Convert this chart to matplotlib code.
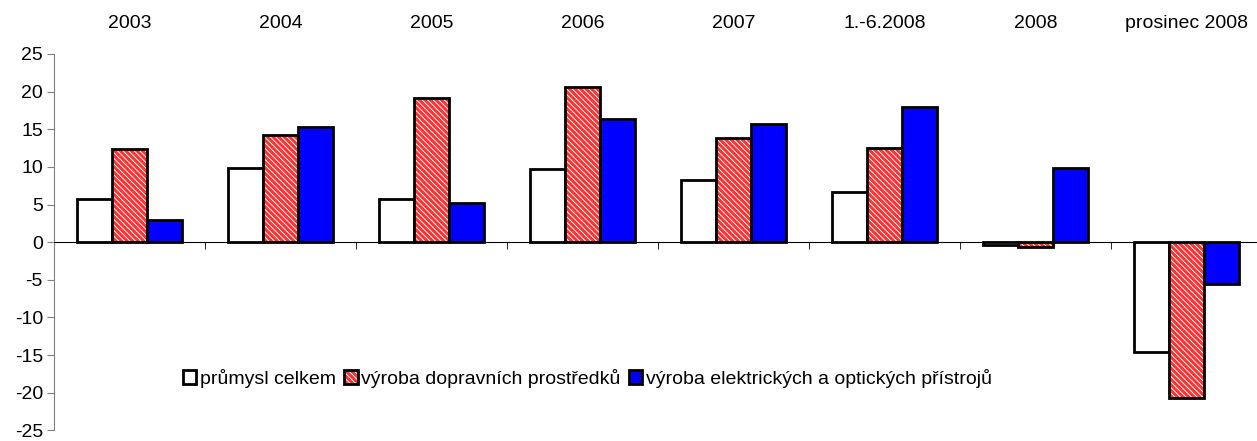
import matplotlib.pyplot as plt
import numpy as np
from matplotlib.patches import Patch

plt.rcParams['font.family'] = ['Liberation Sans', 'DejaVu Sans']
plt.rcParams['font.size'] = 14
plt.rcParams['hatch.linewidth'] = 0.7
plt.rcParams['axes.unicode_minus'] = False

# data
periods = ["2003", "2004", "2005", "2006", "2007", "1.-6.2008", "2008", "prosinec 2008"]
prumysl = [5.8, 9.9, 5.7, 9.7, 8.2, 6.7, -0.4, -14.6]
doprava = [12.4, 14.3, 19.2, 20.6, 13.9, 12.5, -0.6, -20.7]
elektro = [2.9, 15.3, 5.2, 16.3, 15.7, 18.0, 9.8, -5.5]
labels = ["průmysl celkem", "výroba dopravních prostředků",
          "výroba elektrických a optických přístrojů"]

fig = plt.figure(figsize=(12.57, 4.41), dpi=100)
# plot area runs a little past the right edge, like the original
ax = fig.add_axes([0.043, 0.024, 0.961, 0.8536])

x = np.arange(len(periods))
w = 0.23
lw = 2
red = "#ff3030"
hatch = "\\\\\\\\\\\\"

ax.bar(x - w, prumysl, w, color="white", edgecolor="black", linewidth=lw, zorder=3)
# red bars: hatch drawn white first, then a black outline on top
ax.bar(x, doprava, w, color=red, edgecolor="white", hatch=hatch, linewidth=0, zorder=3)
ax.bar(x, doprava, w, fill=False, edgecolor="black", linewidth=lw, zorder=4)
ax.bar(x + w, elektro, w, color="#0000ff", edgecolor="black", linewidth=lw, zorder=3)

ax.set_xlim(-0.5, len(periods) - 0.5)
ax.set_ylim(-25, 25)
ax.set_yticks(range(-25, 30, 5))

ax.spines['top'].set_visible(False)
ax.spines['right'].set_visible(False)
ax.spines['left'].set_color("#808080")
ax.spines['bottom'].set_position(('data', 0))
ax.spines['bottom'].set_zorder(5)

ax.set_xticks(x)
ax.set_xticklabels(periods)
ax.set_xticks(np.arange(0.5, len(periods) - 1, 1), minor=True)
ax.tick_params(axis='x', which='major', length=0, bottom=False, top=False,
               labelbottom=False, labeltop=True, pad=16)
ax.tick_params(axis='x', which='minor', length=5, direction='out', bottom=True, top=False)
ax.tick_params(axis='y', length=5, direction='out', color="#808080", pad=3)

h1 = Patch(facecolor="white", edgecolor="black", linewidth=lw)
h2 = (Patch(facecolor=red, edgecolor="white", hatch=hatch, linewidth=0),
      Patch(fill=False, edgecolor="black", linewidth=lw))
h3 = Patch(facecolor="#0000ff", edgecolor="black", linewidth=lw)
ax.legend([h1, h2, h3], labels, loc='upper left', bbox_to_anchor=(0.1, 0.185),
          ncol=3, frameon=False, handlelength=0.7, handleheight=0.7,
          handletextpad=0.2, columnspacing=0.4, borderaxespad=0)

fig.savefig("out.png", dpi=100)
